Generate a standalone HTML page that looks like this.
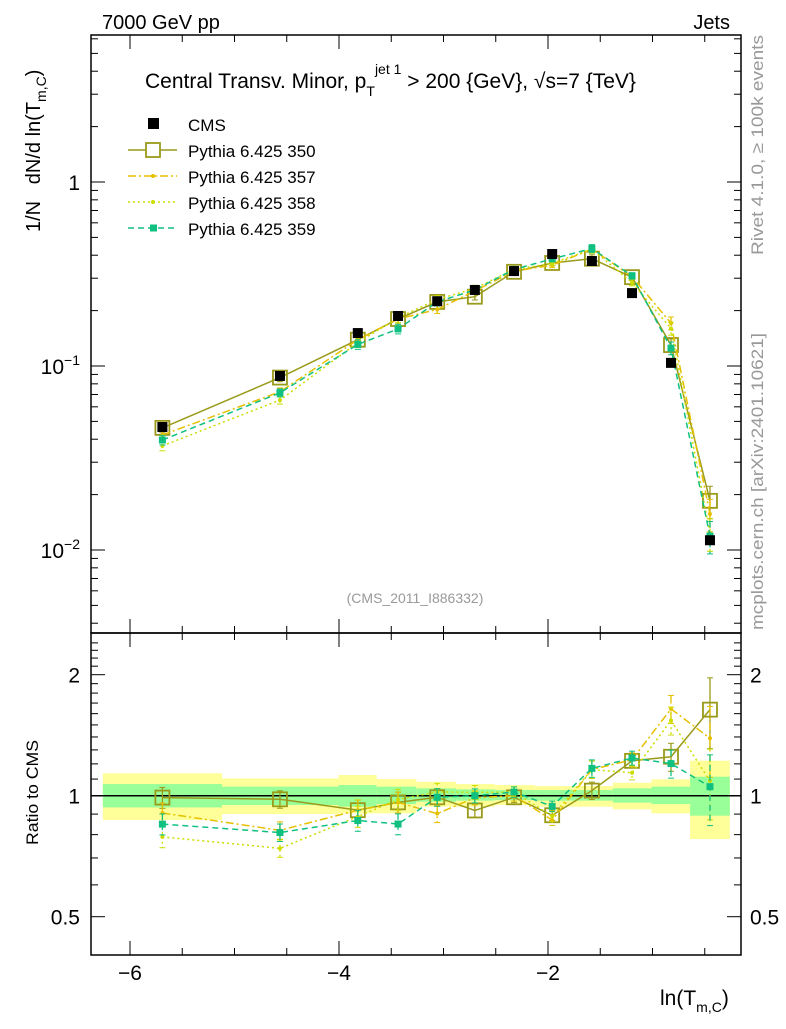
<!DOCTYPE html>
<html><head><meta charset="utf-8"><style>
body{margin:0;background:#fff;width:786px;height:1024px;overflow:hidden}
svg{font-family:"Liberation Sans",sans-serif}
</style></head><body>
<svg id="c" width="786" height="1024" viewBox="0 0 786 1024"></svg>
<script>
const binCenters=[-5.69,-4.565,-3.82,-3.435,-3.06,-2.70,-2.325,-1.96,-1.58,-1.196,-0.823,-0.45];
const binEdges=[-6.26,-5.12,-4.005,-3.64,-3.26,-2.88,-2.51,-2.13,-1.75,-1.38,-1.01,-0.64,-0.26];
const cmsVals=[0.0466,0.0883,0.151,0.187,0.225,0.259,0.328,0.406,0.372,0.249,0.104,0.0113];
const bandStatUp=[1.069,1.053,1.063,1.053,1.043,1.037,1.033,1.033,1.033,1.043,1.053,1.115];
const bandStatDn=[0.935,0.948,0.939,0.953,0.966,0.972,0.975,0.972,0.972,0.961,0.953,0.892];
const bandTotUp=[1.137,1.104,1.126,1.100,1.083,1.069,1.063,1.057,1.057,1.077,1.098,1.222];
const bandTotDn=[0.870,0.900,0.904,0.904,0.939,0.939,0.948,0.939,0.939,0.925,0.904,0.780];
const mc350=[0.0461,0.0865,0.139,0.180,0.223,0.238,0.325,0.363,0.383,0.304,0.130,0.0185];
const mc357=[0.0422,0.0724,0.139,0.180,0.203,0.256,0.328,0.353,0.432,0.306,0.171,0.0157];
const mc358=[0.0368,0.0653,0.134,0.183,0.230,0.264,0.335,0.361,0.432,0.284,0.160,0.0123];
const mc359=[0.0396,0.0715,0.131,0.159,0.223,0.259,0.335,0.382,0.435,0.309,0.125,0.0119];
const mcErr=[0.06,0.05,0.06,0.06,0.05,0.04,0.03,0.03,0.05,0.04,0.08,0.20];
const xTickLabels=[-6,-4,-2];
const ratioTickLabels=[0.5,1,2];

const S=document.getElementById('c');const NS='http://www.w3.org/2000/svg';
function el(t,a,p){const e=document.createElementNS(NS,t);for(const k in a)e.setAttribute(k,a[k]);(p||S).appendChild(e);return e;}
const L=91,R=741,T=35,M=633,B=955;
const X=v=>130+(v+6)*104.5;
const Y=v=>182-Math.log10(v)*184;
const YR=r=>795.7-Math.log2(r)*121;

const gB=el('g',{});
for(let i=0;i<binCenters.length;i++){
  const x0=X(binEdges[i]),x1=X(binEdges[i+1]);
  const r1=el('rect',{x:x0,y:YR(bandTotUp[i]),width:x1-x0,height:YR(bandTotDn[i])-YR(bandTotUp[i]),fill:'#ffff99'},gB);
  
  const r2=el('rect',{x:x0,y:YR(bandStatUp[i]),width:x1-x0,height:YR(bandStatDn[i])-YR(bandStatUp[i]),fill:'#99ff99'},gB);
  
}
el('line',{x1:L,x2:R,y1:YR(1),y2:YR(1),stroke:'#000','stroke-width':1.5});

const fr1=el('rect',{x:L,y:T,width:R-L,height:M-T,fill:'none',stroke:'#000','stroke-width':1.5});

const fr2=el('rect',{x:L,y:M,width:R-L,height:B-M,fill:'none',stroke:'#000','stroke-width':1.5});


for(let v=-6.5;v<=-0.2;v+=0.5){
  const x=X(v);if(x<L||x>R)continue;const maj=Math.abs(v%2)<1e-6;const len=maj?14:7;
  for(const [y0,d] of [[M,-1],[T,1],[B,-1],[M,1]]) el('line',{x1:x,x2:x,y1:y0,y2:y0+d*len,stroke:'#000'});
}
xTickLabels.forEach(v=>{const t=el('text',{x:X(v),y:980,'font-size':21,'text-anchor':'middle'});t.textContent='\u2212'+Math.abs(v);
 });
for(let d=-3;d<=0;d++)for(let m=1;m<10;m++){const v=m*Math.pow(10,d);const y=Y(v);if(y<T||y>M)continue;
 const len=m==1?14:7;el('line',{x1:L,x2:L+len,y1:y,y2:y,stroke:'#000'});el('line',{x1:R,x2:R-len,y1:y,y2:y,stroke:'#000'});}
[[1,'1',''],[0.1,'10','\u22121'],[0.01,'10','\u22122']].forEach(([v,b,e])=>{const t=el('text',{x:80,y:Y(v)+8,'font-size':21,'text-anchor':'end'});
 t.textContent=b;if(e){const s=el('tspan',{dy:-9,'font-size':14},t);s.textContent=e;}
 });
for(let r=0.4;r<=2.5;r+=0.1){const y=YR(r);if(y<M||y>B)continue;const maj=[0.5,1,2].some(q=>Math.abs(q-r)<1e-6);
 const len=maj?14:7;el('line',{x1:L,x2:L+len,y1:y,y2:y,stroke:'#000'});el('line',{x1:R,x2:R-len,y1:y,y2:y,stroke:'#000'});}
ratioTickLabels.forEach(v=>{for(const [x,a] of [[80,'end'],[750,'start']]){const t=el('text',{x:x,y:YR(v)+8,'font-size':21,'text-anchor':a});t.textContent=String(v);
 }});

const series=[
 {v:mc350,c:'#9a9a1a',dash:'',name:'pythia-350',mk:'open'},
 {v:mc357,c:'#e6c000',dash:'8,3,2,3',name:'pythia-357',mk:'dot'},
 {v:mc358,c:'#ccdd00',dash:'2,3',name:'pythia-358',mk:'dot'},
 {v:mc359,c:'#10c080',dash:'6,4',name:'pythia-359',mk:'sq'}];
series.forEach(s=>{
 for(const panel of ['main','ratio']){
  const g=el('g',{});
  const f=panel=='main'?(i=>Y(s.v[i])):(i=>YR(s.v[i]/cmsVals[i]));
  const fe=panel=='main'?((i,k)=>Y(s.v[i]*(1+k*mcErr[i]))):((i,k)=>YR(s.v[i]/cmsVals[i]*(1+k*mcErr[i])));
  el('polyline',{points:binCenters.map((x,i)=>X(x)+','+f(i)).join(' '),fill:'none',stroke:s.c,'stroke-width':1.5,'stroke-dasharray':s.dash},g);
  binCenters.forEach((x,i)=>{const px=X(x);
   el('line',{x1:px,x2:px,y1:fe(i,1),y2:fe(i,-1),stroke:s.c,'stroke-width':1.3,'stroke-dasharray':s.dash},g);
   el('line',{x1:px-3,x2:px+3,y1:fe(i,1),y2:fe(i,1),stroke:s.c},g);el('line',{x1:px-3,x2:px+3,y1:fe(i,-1),y2:fe(i,-1),stroke:s.c},g);
   let m;
   if(s.mk=='open')m=el('rect',{x:px-7,y:f(i)-7,width:14,height:14,fill:'none',stroke:s.c,'stroke-width':1.8},g);
   else if(s.mk=='sq')m=el('rect',{x:px-3.5,y:f(i)-3.5,width:7,height:7,fill:s.c},g);
   else m=el('circle',{cx:px,cy:f(i),r:2,fill:s.c},g);
   });
 }});
const gc=el('g',{});
binCenters.forEach((x,i)=>{const m=el('rect',{x:X(x)-5,y:Y(cmsVals[i])-5,width:10,height:10,fill:'#000'},gc);
 });

const lg=el('g',{});
const ly=[124,150,176,202,228];
el('rect',{x:148,y:118,width:11,height:11,fill:'#000'},lg);
series.forEach((s,k)=>{const y=ly[k+1];el('line',{x1:128,x2:177,y1:y,y2:y,stroke:s.c,'stroke-width':1.5,'stroke-dasharray':s.dash},lg);
 if(s.mk=='open')el('rect',{x:146,y:y-7,width:14,height:14,fill:'#fff',stroke:s.c,'stroke-width':1.8},lg);
 else if(s.mk=='sq')el('rect',{x:150,y:y-3.5,width:7,height:7,fill:s.c},lg);else el('circle',{cx:153,cy:y,r:2,fill:s.c},lg);});
['CMS','Pythia 6.425 350','Pythia 6.425 357','Pythia 6.425 358','Pythia 6.425 359'].forEach((t,k)=>{
 const e=el('text',{x:188,y:ly[k]+7,'font-size':17},lg);e.textContent=t;});

function txt(x,y,s,str,attrs,name){const t=el('text',Object.assign({x:x,y:y,'font-size':s},attrs||{}));t.innerHTML=str;return t;}
txt(102,29,20,'7000 GeV pp',{},'beam-label');
txt(730,29,20,'Jets',{'text-anchor':'end'},'process-label');
txt(145,88,21,'Central Transv. Minor, p<tspan dy="8" font-size="14">T</tspan><tspan dy="-22" font-size="14">jet 1</tspan><tspan dy="14"> &gt; 200 {GeV}, \u221As=7 {TeV}</tspan>',{},'plot-title');
txt(415,603,14,'(CMS_2011_I886332)',{'text-anchor':'middle',fill:'#999'},'analysis-id');
txt(0,0,20,'1/N &#160;&#160;dN/d ln(T<tspan dy="6" font-size="14">m,C</tspan><tspan dy="-6">)</tspan>',{transform:'translate(40,232) rotate(-90)'},'y-axis-title');
txt(0,0,17,'Ratio to CMS',{transform:'translate(38,845) rotate(-90)',textLength:105,lengthAdjust:'spacingAndGlyphs'},'ratio-axis-title');
txt(660,1005,21,'ln(T<tspan dy="7" font-size="14">m,C</tspan><tspan dy="-7">)</tspan>',{},'x-axis-title');
txt(0,0,17,'Rivet 4.1.0, \u2265 100k events',{transform:'translate(763,255) rotate(-90)',fill:'#999',textLength:220,lengthAdjust:'spacingAndGlyphs'},'rivet-label');
txt(0,0,17,'mcplots.cern.ch [arXiv:2401.10621]',{transform:'translate(763,630) rotate(-90)',fill:'#999',textLength:297,lengthAdjust:'spacingAndGlyphs'},'mcplots-label');
</script>
</body></html>
